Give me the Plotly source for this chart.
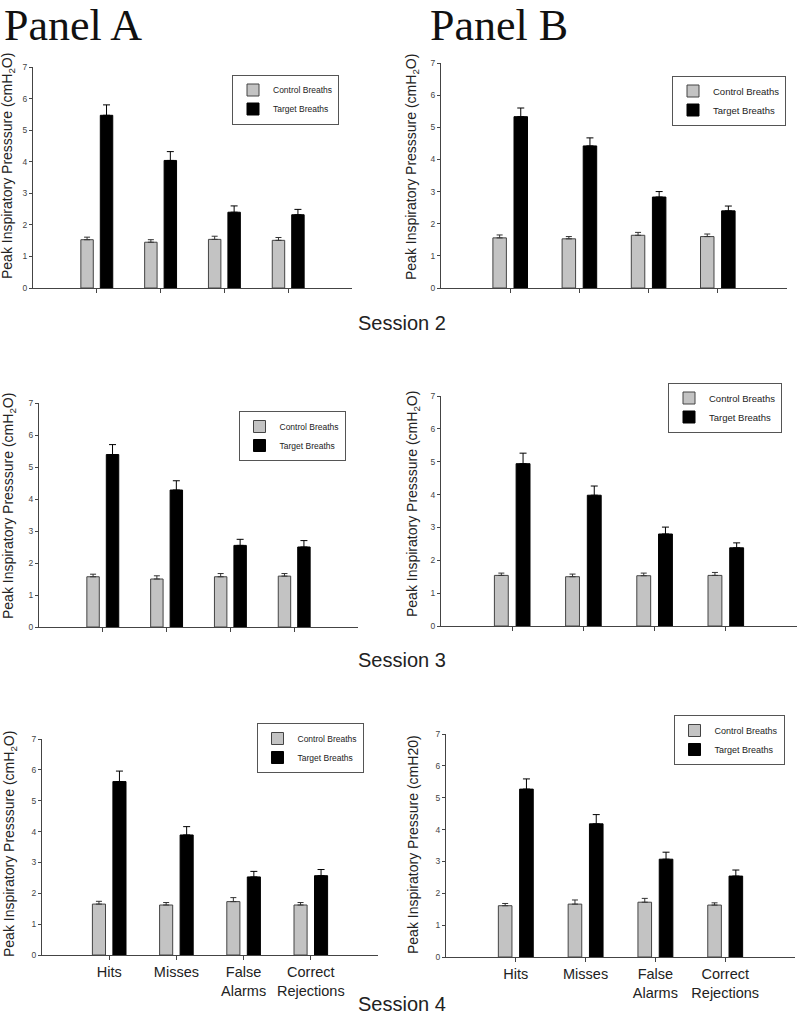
import plotly.graph_objects as go

W, H = 800, 1022

categories = ["Hits", "Misses", "False<br>Alarms", "Correct<br>Rejections"]
series_names = ["Control Breaths", "Target Breaths"]
sessions = ["Session 2", "Session 3", "Session 4"]
panel_titles = ["Panel A", "Panel B"]

# Panel A / Session 2
a2_control = [1.53, 1.45, 1.54, 1.51]
a2_control_err = [0.08, 0.08, 0.10, 0.09]
a2_target = [5.47, 4.04, 2.40, 2.32]
a2_target_err = [0.33, 0.28, 0.20, 0.17]
# Panel B / Session 2
b2_control = [1.56, 1.53, 1.64, 1.60]
b2_control_err = [0.09, 0.07, 0.09, 0.08]
b2_target = [5.33, 4.42, 2.83, 2.40]
b2_target_err = [0.27, 0.25, 0.17, 0.15]
# Panel A / Session 3
a3_control = [1.57, 1.50, 1.57, 1.59]
a3_control_err = [0.08, 0.10, 0.10, 0.08]
a3_target = [5.39, 4.28, 2.55, 2.50]
a3_target_err = [0.31, 0.29, 0.19, 0.20]
# Panel B / Session 3
b3_control = [1.54, 1.50, 1.53, 1.54]
b3_control_err = [0.07, 0.08, 0.08, 0.09]
b3_target = [4.94, 3.98, 2.80, 2.38]
b3_target_err = [0.32, 0.28, 0.21, 0.15]
# Panel A / Session 4
a4_control = [1.65, 1.62, 1.73, 1.62]
a4_control_err = [0.09, 0.08, 0.13, 0.08]
a4_target = [5.62, 3.89, 2.53, 2.57]
a4_target_err = [0.34, 0.27, 0.18, 0.20]
# Panel B / Session 4
b4_control = [1.61, 1.66, 1.72, 1.63]
b4_control_err = [0.07, 0.13, 0.12, 0.07]
b4_target = [5.27, 4.18, 3.07, 2.54]
b4_target_err = [0.32, 0.29, 0.22, 0.19]

ytitle_a = "Peak Inspiratory Presssure (cmH<sub>2</sub>O)"
ytitle_b4 = "Peak Inspiratory Pressure (cmH20)"

SANS = "Liberation Sans, Arial, sans-serif"
SERIF = "Liberation Serif, Times New Roman, serif"

# geometry in pixels: plot box (x0, x1, ytop, ybot), legend centre, y-title centre
panels = [
    dict(c=a2_control, ce=a2_control_err, t=a2_target, te=a2_target_err,
         box=(33, 352, 67, 288), leg=(285.5, 99.5), yt=(8, 166), ttl=ytitle_a, labels=False, lf=8.5),
    dict(c=b2_control, ce=b2_control_err, t=b2_target, te=b2_target_err,
         box=(441, 787, 63, 288), leg=(729, 100.5), yt=(412, 167), ttl=ytitle_a, labels=False, lf=9.5),
    dict(c=a3_control, ce=a3_control_err, t=a3_target, te=a3_target_err,
         box=(39, 358, 403, 627), leg=(292, 436), yt=(9, 506), ttl=ytitle_a, labels=False, lf=8.5),
    dict(c=b3_control, ce=b3_control_err, t=b3_target, te=b3_target_err,
         box=(441, 797, 396, 626), leg=(725, 407.5), yt=(413, 504), ttl=ytitle_a, labels=False, lf=9.5),
    dict(c=a4_control, ce=a4_control_err, t=a4_target, te=a4_target_err,
         box=(42, 378, 739, 955), leg=(310, 748), yt=(10, 844), ttl=ytitle_a, labels=True, lf=8.5),
    dict(c=b4_control, ce=b4_control_err, t=b4_target, te=b4_target_err,
         box=(446, 795, 734, 957), leg=(729, 740), yt=(413, 845), ttl=ytitle_b4, labels=True, lf=9),
]

fig = go.Figure()
annotations = []
layout = {}

for i, p in enumerate(panels, start=1):
    sfx = "" if i == 1 else str(i)
    xa, ya, lg = "x" + sfx, "y" + sfx, "legend" + sfx
    fig.add_trace(go.Bar(
        x=categories, y=p["c"], name=series_names[0], xaxis=xa, yaxis=ya, legend=lg,
        offset=-0.25, width=0.195,
        marker=dict(color="#c3c3c3", line=dict(color="#444444", width=1)),
        error_y=dict(type="data", symmetric=False, array=p["ce"], arrayminus=[0] * 4,
                     color="#333333", thickness=1, width=3),
    ))
    fig.add_trace(go.Bar(
        x=categories, y=p["t"], name=series_names[1], xaxis=xa, yaxis=ya, legend=lg,
        offset=0.055, width=0.195,
        marker=dict(color="#000000", line=dict(color="#000000", width=1)),
        error_y=dict(type="data", symmetric=False, array=p["te"], arrayminus=[0] * 4,
                     color="#000000", thickness=1, width=3.5),
    ))
    x0, x1, yt, yb = p["box"]
    layout["xaxis" + sfx] = dict(
        domain=[x0 / W, x1 / W], anchor=ya, type="category", automargin=False,
        categoryorder="array", categoryarray=categories, range=[-1, 4],
        showline=True, linecolor="#444444", linewidth=1, ticks="outside",
        ticklen=4, tickcolor="#444444", showgrid=False, zeroline=False,
        showticklabels=p["labels"],
        tickfont=dict(family=SANS, size=14.5, color="#222222"),
        fixedrange=True,
    )
    layout["yaxis" + sfx] = dict(
        domain=[1 - yb / H, 1 - yt / H], anchor=xa, range=[0, 7], dtick=1,
        automargin=False,
        showline=True, linecolor="#444444", linewidth=1, ticks="outside",
        ticklen=3, tickcolor="#444444", showgrid=False, zeroline=False,
        tickfont=dict(family=SANS, size=8.5, color="#444444"),
        fixedrange=True,
    )
    lx, ly = p["leg"]
    layout[lg] = dict(
        x=lx / W, y=1 - ly / H, xanchor="center", yanchor="middle",
        bordercolor="#555555", borderwidth=1, bgcolor="white",
        font=dict(family=SANS, size=p["lf"], color="#222222"),
        tracegroupgap=0, traceorder="normal",
    )
    tx, ty = p["yt"]
    annotations.append(dict(
        text=p["ttl"], x=tx / W, y=1 - ty / H, xref="paper", yref="paper",
        showarrow=False, textangle=-90, xanchor="center", yanchor="middle",
        font=dict(family=SANS, size=14, color="#222222"),
    ))

for s, yc in zip(sessions, [323, 660, 1004]):
    annotations.append(dict(
        text=s, x=402 / W, y=1 - yc / H, xref="paper", yref="paper",
        showarrow=False, xanchor="center", yanchor="middle",
        font=dict(family=SANS, size=20, color="#222222"),
    ))

for t, xl in zip(panel_titles, [3, 429]):
    annotations.append(dict(
        text=t, x=xl / W, y=1, xref="paper", yref="paper",
        showarrow=False, xanchor="left", yanchor="top", borderpad=0,
        font=dict(family=SERIF, size=44, color="#111111"),
    ))

fig.update_layout(
    width=W, height=H, margin=dict(l=0, r=0, t=0, b=0, autoexpand=False),
    paper_bgcolor="white", plot_bgcolor="white",
    barmode="overlay", annotations=annotations, **layout,
)

fig.write_html("out.html", config={"displayModeBar": False},
               post_script="document.body.style.margin='0';")
